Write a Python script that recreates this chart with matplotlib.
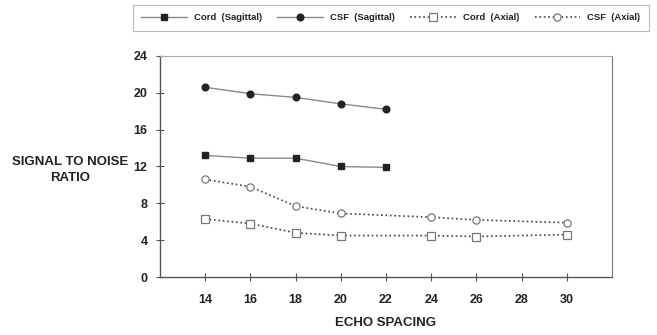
import matplotlib
matplotlib.use("Agg")
import matplotlib.pyplot as plt

plt.rcParams['font.family'] = ['Liberation Sans', 'DejaVu Sans']

x_sag = [14, 16, 18, 20, 22]
cord_sag = [13.2, 12.9, 12.9, 12.0, 11.9]
csf_sag = [20.6, 19.9, 19.5, 18.8, 18.2]
x_ax = [14, 16, 18, 20, 24, 26, 30]
cord_ax = [6.3, 5.8, 4.8, 4.5, 4.5, 4.4, 4.6]
csf_ax = [10.6, 9.8, 7.7, 6.9, 6.5, 6.2, 5.9]
xticks = [14, 16, 18, 20, 22, 24, 26, 28, 30]
yticks = [0, 4, 8, 12, 16, 20, 24]
labels = ['Cord  (Sagittal)', 'CSF  (Sagittal)', 'Cord  (Axial)', 'CSF  (Axial)']

fig = plt.figure(figsize=(6.57, 3.35), dpi=100)
ax = fig.add_axes([0.2435, 0.173, 0.688, 0.66])

h1, = ax.plot(x_sag, cord_sag, '-', color='#8a8a8a', lw=1.0, marker='s', ms=4.6,
              mfc='#222222', mec='#222222', label=labels[0])
h2, = ax.plot(x_sag, csf_sag, '-', color='#8a8a8a', lw=1.0, marker='o', ms=4.8,
              mfc='#222222', mec='#222222', label=labels[1])
h3, = ax.plot(x_ax, cord_ax, ':', color='#444444', lw=1.2, marker='s', ms=5.2,
              mfc='white', mec='#777777', mew=0.9, label=labels[2])
h4, = ax.plot(x_ax, csf_ax, ':', color='#444444', lw=1.2, marker='o', ms=5.2,
              mfc='white', mec='#777777', mew=0.9, label=labels[3])

ax.set_xlim(12, 32)
ax.set_ylim(0, 24)
ax.set_xticks(xticks)
ax.set_yticks(yticks)
ax.tick_params(axis='both', direction='inout', length=6, width=0.8, color='#555555',
               labelsize=9)
ax.tick_params(axis='x', pad=9)
ax.tick_params(axis='y', pad=6)
for lab in ax.get_xticklabels() + ax.get_yticklabels():
    lab.set_fontweight('bold')
    lab.set_color('#222222')
for s in ['left', 'bottom']:
    ax.spines[s].set_color('#555555')
    ax.spines[s].set_linewidth(1.0)
ax.spines['top'].set_color('#aaaaaa')
ax.spines['right'].set_color('#777777')
ax.spines['top'].set_linewidth(0.8)
ax.spines['right'].set_linewidth(0.8)

fig.text(0.107, 0.492, 'SIGNAL TO NOISE\nRATIO', ha='center', va='center',
         fontsize=9.5, fontweight='bold', color='#222222', linespacing=1.45)
fig.text(0.587, 0.035, 'ECHO SPACING', ha='center', va='center',
         fontsize=9.5, fontweight='bold', color='#222222',
         family=['Liberation Sans Narrow', 'Liberation Sans'])

leg = fig.legend(handles=[h1, h2, h3, h4], loc='center', ncol=4,
                 bbox_to_anchor=(0.595, 0.947), frameon=True, fancybox=False,
                 edgecolor='#aaaaaa', handlelength=4.8, columnspacing=1.6,
                 handletextpad=0.8, borderpad=0.9, borderaxespad=0,
                 prop={'size': 6.8, 'weight': 'bold'})
leg.get_frame().set_linewidth(0.8)
for t in leg.get_texts():
    t.set_color('#222222')

fig.savefig('out.png', dpi=100)
